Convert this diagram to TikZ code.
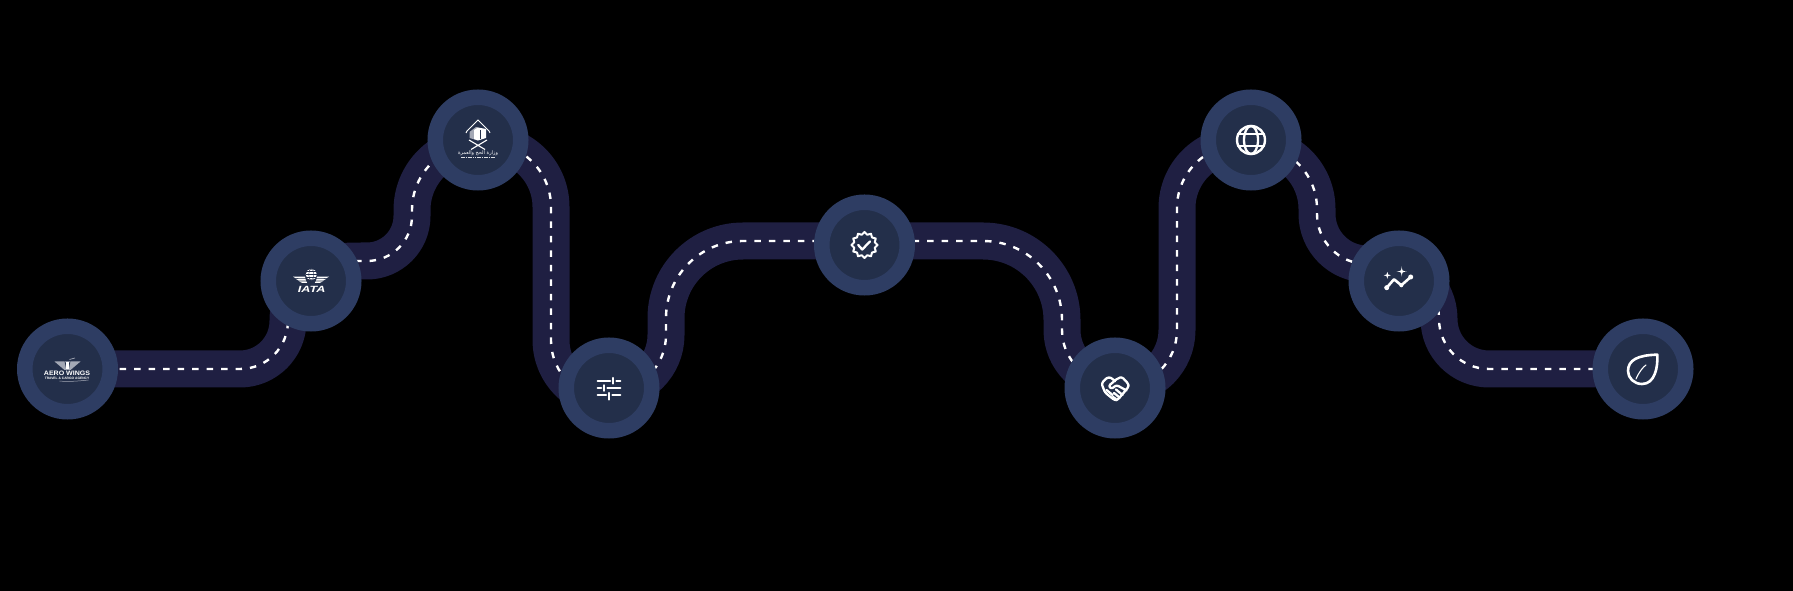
\documentclass[tikz,border=0pt]{standalone}
\usepackage{fontspec}
\setmainfont{Liberation Sans}
\newfontfamily\arabicfont[Script=Arabic]{DejaVu Sans}
\TeXXeTstate=1
\definecolor{roadc}{HTML}{1F1F42}
\definecolor{ringc}{HTML}{2E3D63}
\definecolor{corec}{HTML}{232F4A}
\definecolor{logogray}{HTML}{A3A8B5}
\pgfdeclarelayer{bg}
\pgfdeclarelayer{roadlayer}
\pgfsetlayers{bg,roadlayer,main}
\tikzset{
  stopnode/.style={circle,draw=ringc,fill=corec,line width=15.5pt,minimum size=85.5pt,inner sep=0pt},
  roadseg/.style={draw=roadc,line width=37pt,line join=round,
    postaction={draw=white,line width=2.4pt,dash pattern=on 6.5pt off 8pt,dash phase=6pt}},
  iconline/.style={draw=white,line width=2.3pt,line join=round,line cap=round,fill=none},
  iconthin/.style={draw=white,line width=1.1pt,line join=round,line cap=round,fill=none},
  icontext/.style={text=white,inner sep=0pt,outer sep=0pt,align=center},
}
\newcommand{\sparkleicon}[3]{%
  \fill[white] (#1,#2-#3) .. controls (#1+.5,#2-.5) .. (#1+#3,#2) .. controls (#1+.5,#2+.5) .. (#1,#2+#3)
    .. controls (#1-.5,#2+.5) .. (#1-#3,#2) .. controls (#1-.5,#2-.5) .. cycle;}
\begin{document}
\begin{tikzpicture}[x=1pt,y=1pt]
\begin{pgfonlayer}{bg}
  \fill[black] (0,0) rectangle (1793,591);
\end{pgfonlayer}
\useasboundingbox (0,0) rectangle (1793,591);

% stops
\node[stopnode] (c1) at (67.5,222) {};
\node[stopnode] (c2) at (311,310) {};
\node[stopnode] (c3) at (478,451) {};
\node[stopnode] (c4) at (609,203) {};
\node[stopnode] (c5) at (864.5,346) {};
\node[stopnode] (c6) at (1115,203) {};
\node[stopnode] (c7) at (1251,451) {};
\node[stopnode] (c8) at (1399,310) {};
\node[stopnode] (c9) at (1643,222) {};

% road
\begin{pgfonlayer}{roadlayer}
  \path[roadseg] (c1.center) -- (240,222) arc[start angle=-90,end angle=0,radius=48]
     .. controls (288,295) and (300,310) .. (c2.center);
  \path[roadseg] (c2.center) .. controls (320,330) and (335,330) .. (367,330)
     arc[start angle=-90,end angle=0,radius=45] -- (412,381)
     arc[start angle=180,end angle=90,radius=66] -- (c3.center);
  \path[roadseg] (c3.center) -- (487,448) arc[start angle=90,end angle=0,radius=64]
     -- (551,251) arc[start angle=180,end angle=270,radius=60] -- (c4.center);
  \path[roadseg] (c4.center) -- (610,200) arc[start angle=-90,end angle=0,radius=56]
     -- (666,273) arc[start angle=180,end angle=90,radius=77] -- (864.5,350) -- (c5.center);
  \path[roadseg] (c5.center) -- (864.5,350) -- (983,350) arc[start angle=90,end angle=0,radius=79]
     -- (1062,261) arc[start angle=180,end angle=270,radius=53] -- (c6.center);
  \path[roadseg] (c6.center) -- (1120,204) arc[start angle=-90,end angle=0,radius=57]
     -- (1177,383) arc[start angle=180,end angle=90,radius=63] -- (c7.center);
  \path[roadseg] (c7.center) -- (1253,446) arc[start angle=90,end angle=0,radius=64]
     -- (1317,377) arc[start angle=180,end angle=270,radius=50] -- (c8.center);
  \path[roadseg] (c8.center) -- (1385,326) arc[start angle=90,end angle=0,radius=54]
     arc[start angle=180,end angle=270,radius=50] -- (c9.center);
\end{pgfonlayer}

% logo 1
\begin{scope}[shift={(c1.center)},yscale=-1]
  \fill[logogray] (-13,-7.5) -- (13,-7.5) -- (3,1) -- (-3,1) -- cycle;
  \fill[corec] (-3,-8) -- (0,-3.5) -- (3,-8) -- (1.5,-1) -- (-1.5,-1) -- cycle;
  \fill[white] (-1.2,-7) rectangle (1.2,0);
  \draw[logogray,line width=.7pt] (2,-9.5) -- (7.5,-11);
  \node[icontext,font=\bfseries\fontsize{6.4}{7}\selectfont] (t1a) at (-0.5,4.6) {\scalebox{1.1}[1]{AERO WINGS}};
  \node[icontext,font=\bfseries\fontsize{3.3}{5}\selectfont] (t1b) at (-0.5,9.2) {TRAVEL \& CARGO AGENCY};
  \draw[logogray,line width=.5pt] (-8,12) .. controls (0,13) and (12,12) .. (21,11);
\end{scope}

% logo 2
\begin{scope}[shift={(c2.center)},yscale=-1]
  \fill[white] (0.3,-6.5) circle (5.6);
  \draw[corec,line width=.4pt] (0.3,-6.5) ellipse (2.6 and 5.6);
  \draw[corec,line width=.4pt] (-5.3,-6.5) -- (5.9,-6.5) (-4.6,-9.3) -- (5.2,-9.3) (-4.6,-3.7) -- (5.2,-3.7);
  \foreach \s in {-1,1}{
    \fill[white] (\s*18,-4.3) -- (\s*6,-4.3) -- (\s*5.5,-2.6) -- (\s*15.5,-2.8) -- cycle;
    \fill[white] (\s*15,-2) -- (\s*5.5,-1.9) -- (\s*5,-0.3) -- (\s*12.5,-0.5) -- cycle;
    \fill[white] (\s*12,0.3) -- (\s*4.6,0.4) -- (\s*3.8,2) -- (\s*9,1.8) -- cycle;
  }
  \node[icontext,font=\bfseries\itshape\fontsize{9}{10}\selectfont] (t2) at (0.7,8.7) {\scalebox{1.4}[1]{IATA}};
\end{scope}

% logo 3
\begin{scope}[shift={(c3.center)},yscale=-1]
  \draw[white,line width=.9pt] (-12,-7) -- (-11,-9) -- (0,-20) -- (11,-9) -- (12,-7);
  \fill[logogray] (-8.5,-8) -- (-2,-13) -- (0,-12.5) -- (0,0.5) -- (-8.5,-2) -- cycle;
  \fill[white] (-4,-10) -- (0,-12.5) -- (8,-11) -- (8,-2) -- (0,0.5) -- (-4,-1) -- cycle;
  \draw[corec,line width=.5pt] (2,-10) -- (2,-1);
  \draw[white,line width=1.1pt] (-9,0) -- (7,9.5) (9,0) -- (-7,9.5);
  \node[icontext,font=\arabicfont\fontsize{5}{6}\selectfont] (t3) at (0,13.2) {\beginR وزارة الحج والعمرة\endR};
  \draw[white!85!corec,line width=.8pt,dash pattern=on 1.6pt off .7pt] (-17,17.5) -- (17,17.5);
\end{scope}

% sliders
\begin{scope}[shift={(c4.center)},yscale=-1]
  \draw[iconline] (-11.3,-7.3) -- (1.2,-7.3) (7.5,-7.3) -- (11.3,-7.3) (4.3,-10) -- (4.3,-4.5);
  \draw[iconline] (-11.3,0) -- (-7.8,0) (-1.5,0) -- (11.3,0) (-4.7,-2.7) -- (-4.7,2.7);
  \draw[iconline] (-11.3,7.3) -- (-3,7.3) (3.5,7.3) -- (11.3,7.3) (0.3,5) -- (0.3,11.5);
\end{scope}

% badge check
\begin{scope}[shift={(c5.center)},yscale=-1]
  \draw[iconline,line width=2pt] plot[domain=0:345,samples=24] (\x:{11.8+1.2*cos(12*\x)}) -- cycle;
  \draw[iconline] (-6.3,0) -- (-2.3,4.5) -- (5.5,-3.5);
\end{scope}

% handshake
\begin{scope}[shift={(c6.center)},yscale=-1]
  \draw[iconline,rounded corners=2.2pt] (0,-6.7) -- (-4,-10.5) -- (-8,-10.5) -- (-13.5,-4.5) -- (-10,4.5) -- (0,12.5)
     -- (3,11.5) -- (13.5,-1) -- (13.5,-4) -- (7,-11) -- (3,-10) -- (-6.5,-2) -- (-3.5,1) -- (1.5,-3) -- (11.5,2.5);
  \draw[iconline] (-8.5,2) -- (-2.5,7) (-2,9) -- (1,11) (1,1.5) -- (7.5,7) (-1,5) -- (4.5,9.5);
\end{scope}

% globe
\begin{scope}[shift={(c7.center)},yscale=-1]
  \draw[iconline,line width=2.4pt] (0,0) circle (14);
  \draw[iconline] (0,0) ellipse (7 and 14);
  \draw[iconline] (-13,-5.8) -- (13,-5.8) (-13,5.8) -- (13,5.8);
\end{scope}

% trend
\begin{scope}[shift={(c8.center)},yscale=-1]
  \draw[iconline,line width=2.6pt] (-12.3,6.7) -- (-5,-1.7) -- (2.3,4.3) -- (11.7,-4);
  \fill[white] (-12.3,6.7) circle (2.5) (2.3,4.3) circle (2) (11.7,-4) circle (2.5);
  \sparkleicon{-11.7}{-5.7}{3.5}
  \sparkleicon{2.7}{-9.5}{5}
\end{scope}

% leaf
\begin{scope}[shift={(c9.center)},yscale=-1]
  \draw[iconline,line width=2.6pt] (14.3,-14.3) .. controls (15,-2) and (12,15) .. (-1,15)
     .. controls (-9,15) and (-15,9) .. (-15,2) .. controls (-15,-9) and (-5,-14) .. cycle;
  \draw[iconthin] (-7,10) .. controls (-4,3) and (0,-2) .. (3,-4);
\end{scope}
\end{tikzpicture}
\end{document}
